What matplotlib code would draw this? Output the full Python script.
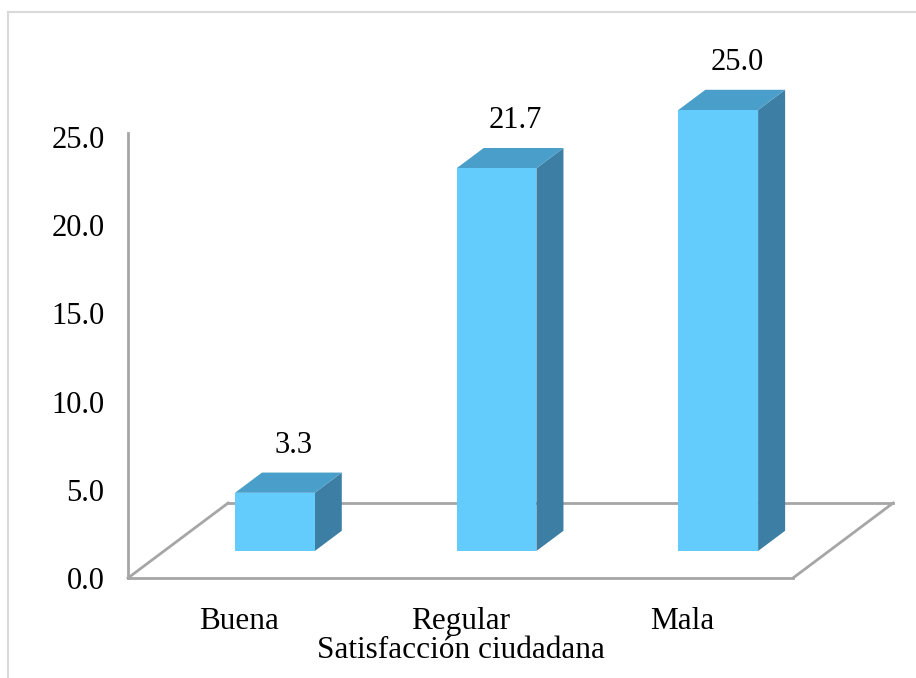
import matplotlib
matplotlib.use('Agg')
import matplotlib.pyplot as plt
from matplotlib.patches import Polygon
from matplotlib.lines import Line2D

plt.rcParams['font.family'] = ['Liberation Serif', 'DejaVu Serif']

# datos
categorias = ['Buena', 'Regular', 'Mala']
valores = [3.3, 21.7, 25.0]
ticks_y = [0, 5, 10, 15, 20, 25]
etiquetas_y = ['0.0', '5.0', '10.0', '15.0', '20.0', '25.0']
titulo_x = 'Satisfacción ciudadana'

# colores de las caras
c_frente = '#64CBFD'
c_arriba = '#4A9FCA'
c_lado = '#3D7FA4'
c_piso = '#A6A6A6'

fig = plt.figure(figsize=(9.16, 6.78), dpi=100)
ax = fig.add_axes([128/916, 100/678, 665/916, 445.4/678])
ax.set_xlim(-0.5, 2.5)
ax.set_ylim(0, 25.25)

# profundidad del piso (en unidades de datos)
pdx, pdy = 0.4515, 4.25
# posicion y profundidad de las barras
f0 = 0.36   # fraccion de profundidad de la cara frontal
fd = 0.27   # profundidad de la barra
ancho = 0.36

for i, v in enumerate(valores):
    x0 = i + f0*pdx - ancho/2
    x1 = x0 + ancho
    y0 = f0*pdy
    y1 = y0 + v
    ddx, ddy = fd*pdx, fd*pdy
    lado = [(x1, y0), (x1+ddx, y0+ddy), (x1+ddx, y1+ddy), (x1, y1)]
    arriba = [(x0, y1), (x1, y1), (x1+ddx, y1+ddy), (x0+ddx, y1+ddy)]
    frente = [(x0, y0), (x1, y0), (x1, y1), (x0, y1)]
    for pts, c in [(lado, c_lado), (arriba, c_arriba), (frente, c_frente)]:
        ax.add_patch(Polygon(pts, closed=True, facecolor=c, edgecolor='none',
                             clip_on=False, zorder=3))
    ax.text((x0+x1)/2 + 0.085, y1 + ddy + 1.55, f'{v:.1f}', ha='center', va='center',
            fontsize=22, clip_on=False)

# piso
ax.plot([-0.5 + pdx, 2.5 + pdx], [pdy, pdy], color=c_piso, lw=2, clip_on=False, zorder=1)
ax.plot([-0.5, -0.5 + pdx], [0, pdy], color=c_piso, lw=2, clip_on=False, zorder=1)
ax.plot([2.5, 2.5 + pdx], [0, pdy], color=c_piso, lw=2, clip_on=False, zorder=1)

for s in ['top', 'right']:
    ax.spines[s].set_visible(False)
for s in ['left', 'bottom']:
    ax.spines[s].set_color(c_piso)
    ax.spines[s].set_linewidth(2)

ax.set_yticks(ticks_y)
ax.set_yticklabels(etiquetas_y, fontsize=22)
ax.set_xticks(range(len(categorias)))
ax.set_xticklabels(categorias, fontsize=22.5)
ax.tick_params(axis='y', length=0, pad=17)
ax.tick_params(axis='x', length=0, pad=21)
ax.set_xlabel(titulo_x, fontsize=22.5, labelpad=0)

# marco exterior
fig.add_artist(Line2D([8/916, 8/916], [0, 666/678], color='#D9D9D9', lw=1.5))
fig.add_artist(Line2D([8/916, 1], [666/678, 666/678], color='#D9D9D9', lw=1.5))

fig.savefig('out.png', dpi=100)
